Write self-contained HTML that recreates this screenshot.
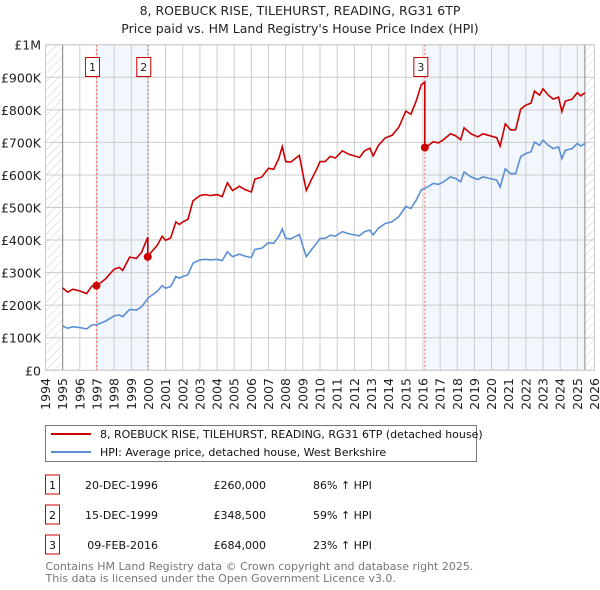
<!DOCTYPE html>
<html><head><meta charset="utf-8"><style>
body{margin:0;background:#fff;width:600px;height:590px;overflow:hidden;font-family:"DejaVu Sans","Liberation Sans",sans-serif;}
svg{display:block}
</style></head><body>
<svg id="chart" width="600" height="590" xmlns="http://www.w3.org/2000/svg" font-family="DejaVu Sans, Liberation Sans, sans-serif">
<defs>
<pattern id="hatch" width="6" height="6" patternUnits="userSpaceOnUse" patternTransform="rotate(45)">
<line x1="0" y1="0" x2="0" y2="6" stroke="#ccc" stroke-width="1"/>
</pattern>
</defs>
<text x="300" y="15" text-anchor="middle" font-size="12.5" fill="#222">8, ROEBUCK RISE, TILEHURST, READING, RG31 6TP</text>
<text x="300" y="33" text-anchor="middle" font-size="12.5" fill="#222">Price paid vs. HM Land Registry's House Price Index (HPI)</text>
<g id="plot"></g>
<g>
<rect x="45.5" y="425.5" width="431" height="36" fill="#fff" stroke="#777"/>
<line x1="51" y1="434" x2="91" y2="434" stroke="#cc0000" stroke-width="2"/>
<text x="100" y="438" font-size="11" fill="#111">8, ROEBUCK RISE, TILEHURST, READING, RG31 6TP (detached house)</text>
<line x1="51" y1="452" x2="91" y2="452" stroke="#5b8fd4" stroke-width="2"/>
<text x="100" y="456" font-size="11" fill="#111">HPI: Average price, detached house, West Berkshire</text>
</g>
<g id="table" font-size="11" fill="#111"></g>
<text x="45.5" y="570" font-size="11" fill="#777">Contains HM Land Registry data © Crown copyright and database right 2025.</text>
<text x="45.5" y="582" font-size="11" fill="#777">This data is licensed under the Open Government Licence v3.0.</text>
</svg>
<script>
const hpiYears=[1995.0,1995.3,1995.6,1996.0,1996.4,1996.7,1997.0,1997.5,1998.0,1998.3,1998.5,1998.9,1999.3,1999.6,2000.0,2000.5,2000.8,2001.0,2001.3,2001.6,2001.8,2002.0,2002.3,2002.6,2003.0,2003.3,2003.6,2004.0,2004.3,2004.6,2004.9,2005.3,2005.6,2006.0,2006.2,2006.6,2007.0,2007.3,2007.6,2007.8,2008.0,2008.3,2008.6,2008.8,2009.0,2009.2,2009.5,2009.8,2010.0,2010.3,2010.6,2010.9,2011.3,2011.7,2012.0,2012.3,2012.6,2012.9,2013.1,2013.4,2013.8,2014.2,2014.6,2015.0,2015.3,2015.6,2015.9,2016.1,2016.3,2016.6,2016.9,2017.2,2017.6,2017.9,2018.2,2018.4,2018.8,2019.2,2019.5,2019.9,2020.3,2020.5,2020.8,2021.1,2021.4,2021.7,2022.0,2022.3,2022.5,2022.8,2023.0,2023.3,2023.6,2023.9,2024.1,2024.3,2024.7,2025.0,2025.2,2025.44];
const hpiValues=[136,129,134,131,127,139,140,151,167,170,165,187,185,195,223,242,260,252,257,288,283,288,293,329,339,341,339,341,337,364,349,357,351,346,371,375,392,390,411,434,405,404,412,417,382,349,370,390,405,405,415,412,426,419,416,413,426,431,416,436,451,456,472,503,497,522,554,559,564,574,571,579,594,589,579,609,594,586,594,589,584,563,619,604,604,656,666,671,701,691,707,691,681,686,650,676,681,697,689,697];
const saleLabels=["1","2","3"];
const saleDates=["20-DEC-1996","15-DEC-1999","09-FEB-2016"];
const saleYears=[1996.97,1999.96,2016.11];
const salePrices=[260000,348500,684000];
const salePct=[86,59,23];
const yTicks=[0,100,200,300,400,500,600,700,800,900,1000];
const yTickLabels=["£0","£100K","£200K","£300K","£400K","£500K","£600K","£700K","£800K","£900K","£1M"];
const xTicks=[1994,1995,1996,1997,1998,1999,2000,2001,2002,2003,2004,2005,2006,2007,2008,2009,2010,2011,2012,2013,2014,2015,2016,2017,2018,2019,2020,2021,2022,2023,2024,2025,2026];

const X0=45.5,X1=594.5,Y0=370.3,Y1=44.7;
const xs=y=>X0+(y-1994)/(2026-1994)*(X1-X0);
const ys=v=>Y0-(v/1000)*(Y0-Y1);
const NS="http://www.w3.org/2000/svg";
const plot=document.getElementById('plot');
function mk(tag,attrs,parent){const e=document.createElementNS(NS,tag);for(const k in attrs)e.setAttribute(k,attrs[k]);(parent||plot).appendChild(e);return e;}
function hpiAt(t){for(let i=0;i<hpiYears.length-1;i++){if(t<=hpiYears[i+1]){const f=(t-hpiYears[i])/(hpiYears[i+1]-hpiYears[i]);return hpiValues[i]+f*(hpiValues[i+1]-hpiValues[i]);}}return hpiValues[hpiValues.length-1];}
const lastYear=hpiYears[hpiYears.length-1];
mk('rect',{x:X0,y:Y1,width:X1-X0,height:Y0-Y1,fill:'#fff'});
const sh1=mk('rect',{x:xs(saleYears[0]),y:Y1,width:xs(saleYears[1])-xs(saleYears[0]),height:Y0-Y1,fill:'#f2f6fd'});


const sh2=mk('rect',{x:xs(saleYears[2]),y:Y1,width:xs(lastYear)-xs(saleYears[2]),height:Y0-Y1,fill:'#f2f6fd'});


const h1=mk('rect',{x:X0,y:Y1,width:xs(1995)-X0,height:Y0-Y1,fill:'url(#hatch)'});


const h2=mk('rect',{x:xs(lastYear),y:Y1,width:X1-xs(lastYear),height:Y0-Y1,fill:'url(#hatch)'});


yTicks.forEach((v,i)=>{
 const g=mk('line',{x1:X0,x2:X1,y1:ys(v),y2:ys(v),stroke:'#cccccc','stroke-width':1});
 
 
 const t=mk('text',{x:41,y:ys(v)+5,'text-anchor':'end','font-size':'12.5',fill:'#222'});
 t.textContent=yTickLabels[i];
 
 
});
xTicks.forEach(yr=>{
 const g=mk('line',{x1:xs(yr),x2:xs(yr),y1:Y1,y2:Y0,stroke:'#cccccc','stroke-width':1});
 
 
 const t=mk('text',{x:0,y:0,'text-anchor':'end','font-size':'12.5',fill:'#222',transform:`translate(${xs(yr)+4.5},378) rotate(-90)`});
 t.textContent=yr;
 
 
});
mk('line',{x1:xs(1995),x2:xs(1995),y1:Y1,y2:Y0,stroke:'#888'});
mk('line',{x1:xs(lastYear),x2:xs(lastYear),y1:Y1,y2:Y0,stroke:'#888'});
saleYears.forEach(sy=>{
 const l=mk('line',{x1:xs(sy),x2:xs(sy),y1:Y1,y2:Y0,stroke:'#ee6666','stroke-dasharray':'2,2','stroke-width':1});
 
 
});
const hp=hpiYears.map((y,i)=>xs(y).toFixed(1)+','+ys(hpiValues[i]).toFixed(1)).join(' ');
const hl=mk('polyline',{points:hp,fill:'none',stroke:'#5b8fd4','stroke-width':1.6});


const ratios=saleYears.map((sy,i)=>salePrices[i]/1000/hpiAt(sy));
function ratioAt(t){let r=ratios[0];for(let i=0;i<saleYears.length;i++){if(t>=saleYears[i])r=ratios[i];}return r;}
let pts=[];
const allT=hpiYears.concat(saleYears).sort((a,b)=>a-b);
allT.forEach(t=>{
 saleYears.forEach((sy,i)=>{ if(i>0 && Math.abs(t-sy)<1e-9){pts.push([t,hpiAt(t)*ratios[i-1]]);} });
 pts.push([t,hpiAt(t)*ratioAt(t)]);
});
const pl=mk('polyline',{points:pts.map(p=>xs(p[0]).toFixed(1)+','+ys(p[1]).toFixed(1)).join(' '),fill:'none',stroke:'#cc0000','stroke-width':1.6});


saleYears.forEach((sy,i)=>{
 const c=mk('circle',{cx:xs(sy),cy:ys(salePrices[i]/1000),r:4,fill:'#cc0000'});
 
 
 const bx=xs(sy)-4;
 const r=mk('rect',{x:bx-7,y:57.5,width:14,height:19,fill:'#fff',stroke:'#cc0000'});
 
 
 const t=mk('text',{x:bx,y:71,'text-anchor':'middle','font-size':'11',fill:'#222'});
 t.textContent=saleLabels[i];
 
 
});
mk('rect',{x:X0,y:Y1,width:X1-X0,height:Y0-Y1,fill:'none',stroke:'#cccccc'});
const tb=document.getElementById('table');
const rowY=[485,515,545];
saleYears.forEach((sy,i)=>{
 const y=rowY[i];
 const g=mk('g',{},tb);
 
 
 mk('rect',{x:45.5,y:y-10,width:14,height:19,fill:'#fff',stroke:'#cc0000'},g);
 const a=mk('text',{x:52.5,y:y+4,'text-anchor':'middle'},g);a.textContent=saleLabels[i];
 const b=mk('text',{x:158,y:y+4,'text-anchor':'end'},g);b.textContent=saleDates[i];
 const c=mk('text',{x:266,y:y+4,'text-anchor':'end'},g);c.textContent='£'+salePrices[i].toLocaleString('en-GB');
 const d=mk('text',{x:313,y:y+4},g);d.textContent=salePct[i]+'% \u2191 HPI';
});
</script>
</body></html>
